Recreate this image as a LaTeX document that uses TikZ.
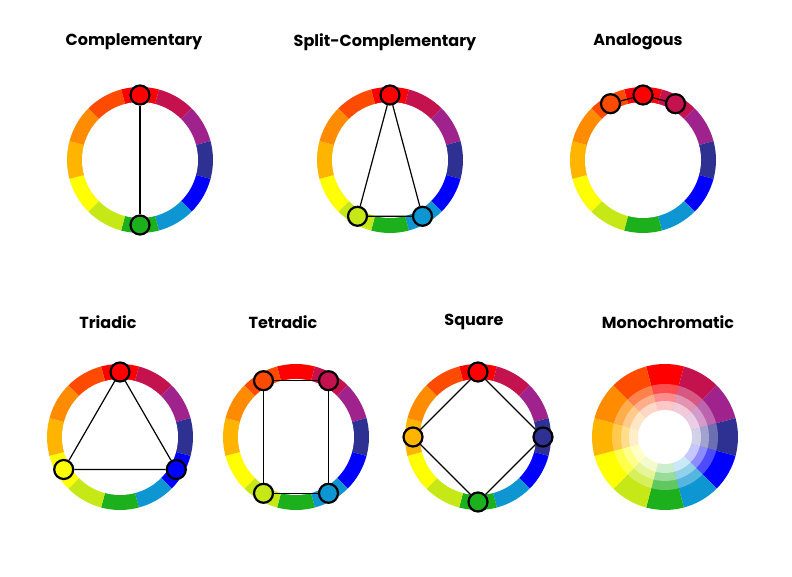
\documentclass[tikz,border=0pt]{standalone}
\usepackage{fontspec}
\setmainfont{Poppins}
\usetikzlibrary{calc}
\definecolor{cred}{HTML}{FF0000}
\definecolor{credviolet}{HTML}{C4124F}
\definecolor{cviolet}{HTML}{A0228C}
\definecolor{cblueviolet}{HTML}{2E3192}
\definecolor{cblue}{HTML}{0000FF}
\definecolor{cbluegreen}{HTML}{0E96D2}
\definecolor{cgreen}{HTML}{1DB01D}
\definecolor{cyellowgreen}{HTML}{C6E817}
\definecolor{cyellow}{HTML}{FFFF00}
\definecolor{cyelloworange}{HTML}{FFB400}
\definecolor{corange}{HTML}{FF8C00}
\definecolor{credorange}{HTML}{FF4B00}
\tikzset{
    dot/.style={circle, draw=black, line width=2.2pt, minimum size=19pt, inner sep=0pt},
    link/.style={line width=1.2pt, black},
    title/.style={font=\fontsize{16}{18}\selectfont\bfseries}
}
% colour ring around a centre
\newcommand\colorring[3]{%
    \foreach \c [count=\i from 0] in {cred,credviolet,cviolet,cblueviolet,cblue,cbluegreen,cgreen,cyellowgreen,cyellow,cyelloworange,corange,credorange} {
        \fill[\c!#3!white, shift={(#1)}] (105-\i*30:#2) arc[start angle=105-\i*30, end angle=75-\i*30, radius=#2] -- (0,0) -- cycle;
    }
}
\begin{document}
\begin{tikzpicture}[x=1pt, y=1pt]
    \useasboundingbox (0,0) rectangle (792,577);

    \coordinate (w1) at (140,417);
    \coordinate (w2) at (390,417);
    \coordinate (w3) at (643,417);
    \coordinate (w4) at (120,140);
    \coordinate (w5) at (296,140);
    \coordinate (w6) at (478,140);
    \coordinate (w7) at (665,140);

    \node[title] at (134,535) {Complementary};
    \node[title] at (385,535) {Split-Complementary};
    \node[title] at (638,535) {Analogous};
    \node[title] at (108,255) {Triadic};
    \node[title] at (283,255) {Tetradic};
    \node[title] at (474,255) {Square};
    \node[title] at (668,255) {Monochromatic};

    %rings
    \foreach \w in {w1,w2,w3,w4,w5,w6} {
        \colorring{\w}{73}{100}
        \fill[white] (\w) circle (58);
    }
    \colorring{w7}{73}{100}
    \colorring{w7}{53}{70}
    \colorring{w7}{44}{45}
    \colorring{w7}{36}{22}
    \fill[white] (w7) circle (27);

    %complementary
    \node[dot, fill=cred] (a1) at ($(w1)+(90:65)$) {};
    \node[dot, fill=cgreen] (a2) at ($(w1)+(270:65)$) {};
    \draw[link] (a1) -- (a2);

    %split-complementary
    \node[dot, fill=cred] (b1) at ($(w2)+(90:65)$) {};
    \node[dot, fill=cyellowgreen] (b2) at ($(w2)+(240:65)$) {};
    \node[dot, fill=cbluegreen] (b3) at ($(w2)+(300:65)$) {};
    \draw[link] (b1) -- (b2) -- (b3) -- (b1);

    %analogous
    \node[dot, fill=credorange] (c1) at ($(w3)+(120:65)$) {};
    \node[dot, fill=cred] (c2) at ($(w3)+(90:65)$) {};
    \node[dot, fill=credviolet] (c3) at ($(w3)+(60:65)$) {};
    \draw[link] (c1) -- (c2) -- (c3);

    %triadic
    \node[dot, fill=cred] (d1) at ($(w4)+(90:65)$) {};
    \node[dot, fill=cyellow] (d2) at ($(w4)+(210:65)$) {};
    \node[dot, fill=cblue] (d3) at ($(w4)+(330:65)$) {};
    \draw[link] (d1) -- (d2) -- (d3) -- (d1);

    %tetradic
    \node[dot, fill=credorange] (e1) at ($(w5)+(120:65)$) {};
    \node[dot, fill=credviolet] (e2) at ($(w5)+(60:65)$) {};
    \node[dot, fill=cbluegreen] (e3) at ($(w5)+(300:65)$) {};
    \node[dot, fill=cyellowgreen] (e4) at ($(w5)+(240:65)$) {};
    \draw[link] (e1) -- (e2) -- (e3) -- (e4) -- (e1);

    %square
    \node[dot, fill=cred] (f1) at ($(w6)+(90:65)$) {};
    \node[dot, fill=cblueviolet] (f2) at ($(w6)+(0:65)$) {};
    \node[dot, fill=cgreen] (f3) at ($(w6)+(270:65)$) {};
    \node[dot, fill=cyelloworange] (f4) at ($(w6)+(180:65)$) {};
    \draw[link] (f1) -- (f2) -- (f3) -- (f4) -- (f1);

\end{tikzpicture}
\end{document}
